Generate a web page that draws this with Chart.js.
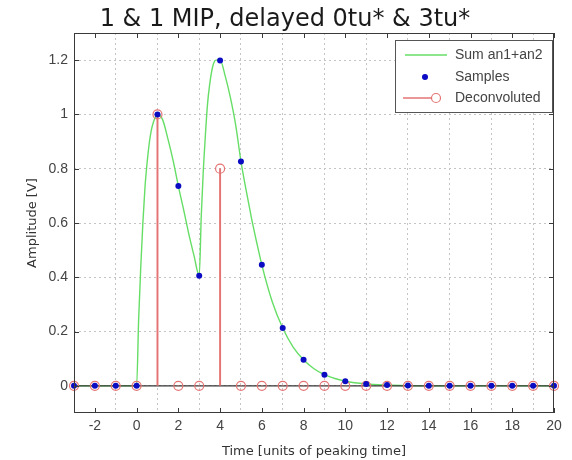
<!DOCTYPE html>
<html>
<head>
<meta charset="utf-8">
<script src="https://cdn.jsdelivr.net/npm/chart.js@4/dist/chart.umd.min.js"></script>
<style>html,body{margin:0;background:#fff}</style>
</head>
<body>
<canvas id="c" width="572" height="460"></canvas>
<script>
// sampled pulse (integer time steps)
const sampleT = [-3,-2,-1,0,1,2,3,4,5,6,7,8,9,10,11,12,13,14,15,16,17,18,19,20];
const sampleV = [0,0,0,0,1.0,0.736,0.406,1.199,0.827,0.446,0.213,0.096,0.041,0.017,0.007,0.003,0.001,0,0,0,0,0,0,0];
const deconvV = [0,0,0,0,1.0,0,0,0.8,0,0,0,0,0,0,0,0,0,0,0,0,0,0,0,0];
// continuous sum curve
const curveT = [-3,0,0.1,0.2,0.3,0.4,0.5,0.6,0.7,0.8,0.9,1,1.25,1.5,1.75,2,2.25,2.5,2.75,3,3.1,3.2,3.3,3.4,3.5,3.6,3.7,3.8,3.9,4,4.25,4.5,4.75,5,5.25,5.5,5.75,6,6.5,7,7.5,8,8.5,9,9.5,10,11,12,13,14,20];
const curveV = [0,0,0.25,0.44,0.6,0.73,0.82,0.89,0.94,0.97,0.99,1.0,0.98,0.91,0.83,0.736,0.65,0.56,0.48,0.406,0.63,0.8,0.93,1.04,1.11,1.16,1.19,1.2,1.2,1.2,1.14,1.06,0.96,0.827,0.72,0.62,0.53,0.446,0.31,0.213,0.143,0.096,0.063,0.041,0.027,0.017,0.007,0.003,0.001,0,0];
const xTicks = [-2,0,2,4,6,8,10,12,14,16,18,20];
const yTicks = [0,0.2,0.4,0.6,0.8,1,1.2];

const GREEN = '#66de66', BLUE = '#0b0bc4', RED = '#e47474';
const FONT = "'Liberation Sans', Arial, sans-serif";
const WIDE = "'DejaVu Sans', sans-serif";

const pts = (xs, ys) => xs.map((x, i) => ({x: x, y: ys[i]}));

const frame = {
  id: 'frame',
  afterDatasetsDraw(chart) {
    const {ctx, chartArea: a, scales: {x, y}} = chart;
    ctx.save();
    ctx.strokeStyle = '#3a3a3a';
    ctx.lineWidth = 1;
    ctx.strokeRect(a.left + 0.5, a.top + 0.5, a.width - 1, a.height - 1);
    ctx.beginPath();
    x.ticks.forEach(t => {
      const p = Math.round(x.getPixelForValue(t.value)) + 0.5;
      ctx.moveTo(p, a.bottom); ctx.lineTo(p, a.bottom - 5);
      ctx.moveTo(p, a.top); ctx.lineTo(p, a.top + 5);
    });
    y.ticks.forEach(t => {
      const p = Math.round(y.getPixelForValue(t.value)) + 0.5;
      ctx.moveTo(a.left, p); ctx.lineTo(a.left + 5, p);
      ctx.moveTo(a.right, p); ctx.lineTo(a.right - 5, p);
    });
    ctx.stroke();
    ctx.restore();
  }
};

const boxLegend = {
  id: 'boxLegend',
  afterDraw(chart) {
    const ctx = chart.ctx;
    const a = chart.chartArea;
    const L = a.right - 159, T = a.top + 7, W = 157, H = 72;
    ctx.save();
    ctx.fillStyle = '#fff';
    ctx.fillRect(L, T, W, H);
    ctx.strokeStyle = '#555';
    ctx.lineWidth = 1;
    ctx.strokeRect(L + 0.5, T + 0.5, W, H);
    ctx.font = '14px ' + FONT;
    ctx.fillStyle = '#444';
    ctx.textBaseline = 'middle';
    const tx = L + 60;
    // Sum
    ctx.strokeStyle = GREEN; ctx.lineWidth = 1.5;
    ctx.beginPath(); ctx.moveTo(L + 10, T + 15); ctx.lineTo(L + 52, T + 15); ctx.stroke();
    ctx.fillText('Sum an1+an2', tx, T + 15);
    // Samples
    ctx.fillStyle = BLUE;
    ctx.beginPath(); ctx.arc(L + 30, T + 37, 3, 0, Math.PI * 2); ctx.fill();
    ctx.fillStyle = '#444';
    ctx.fillText('Samples', tx, T + 37);
    // Deconvoluted
    ctx.strokeStyle = RED; ctx.lineWidth = 1.5;
    ctx.beginPath(); ctx.moveTo(L + 8, T + 58); ctx.lineTo(L + 37, T + 58); ctx.stroke();
    ctx.lineWidth = 1.2;
    ctx.beginPath(); ctx.arc(L + 41, T + 58, 4.5, 0, Math.PI * 2); ctx.stroke();
    ctx.fillText('Deconvoluted', tx, T + 58);
    ctx.restore();
  }
};

new Chart(document.getElementById('c'), {
  type: 'scatter',
  data: {
    datasets: [
      { label: 'Samples', data: pts(sampleT, sampleV), pointStyle: 'circle', pointRadius: 3,
        backgroundColor: BLUE, borderColor: BLUE, borderWidth: 0, showLine: false, order: 0, clip: 6 },
      { label: 'Deconvoluted', data: pts(sampleT, deconvV), pointStyle: 'circle', pointRadius: 4.5,
        backgroundColor: 'rgba(0,0,0,0)', borderColor: RED, borderWidth: 1.2, showLine: false, order: 1, clip: 6 },
      { type: 'bar', label: 'stems', data: pts(sampleT, deconvV), backgroundColor: RED,
        barThickness: 1.3, grouped: false, order: 2 },
      { type: 'line', label: 'baseline', data: pts([sampleT[0], sampleT[sampleT.length - 1]], [0, 0]),
        borderColor: '#333', borderWidth: 1.2, pointRadius: 0, order: 3 },
      { type: 'line', label: 'Sum an1+an2', data: pts(curveT, curveV), borderColor: GREEN,
        borderWidth: 1.4, pointRadius: 0, cubicInterpolationMode: 'monotone', order: 4 }
    ]
  },
  options: {
    responsive: false,
    animation: false,
    layout: { padding: { top: 0, right: 18, bottom: 0, left: 16 } },
    plugins: {
      legend: { display: false },
      tooltip: { enabled: false },
      title: {
        display: true,
        text: '1 & 1 MIP, delayed 0tu* & 3tu*',
        color: '#1a1a1a',
        font: { family: WIDE, size: 24, weight: 'normal', lineHeight: 1.0 },
        padding: { top: 8, bottom: 1 }
      }
    },
    scales: {
      x: {
        type: 'linear', min: -3, max: 20, offset: false,
        afterBuildTicks: s => { s.ticks = xTicks.map(v => ({value: v})); },
        afterFit: s => { s.height = 47; },
        grid: { color: '#c4c4c4', drawTicks: false },
        border: { display: false, dash: [2, 3] },
        ticks: { color: '#444', padding: 5, font: { family: FONT, size: 14 }, maxRotation: 0 },
        title: { display: true, text: 'Time [units of peaking time]', color: '#333',
          font: { family: WIDE, size: 13 }, padding: { top: 0, bottom: 1 } }
      },
      y: {
        type: 'linear', min: -0.1, max: 1.3,
        afterBuildTicks: s => { s.ticks = yTicks.map(v => ({value: v})); },
        afterFit: s => { s.width = 58; },
        grid: { color: '#c4c4c4', drawTicks: false },
        border: { display: false, dash: [2, 3] },
        ticks: { color: '#444', padding: 6, font: { family: FONT, size: 14 },
          callback: v => String(+v.toFixed(1)) },
        title: { display: true, text: 'Amplitude [V]', color: '#333',
          font: { family: WIDE, size: 13 }, padding: { top: 9, bottom: 0 } }
      }
    }
  },
  plugins: [frame, boxLegend]
});
</script>
</body>
</html>
